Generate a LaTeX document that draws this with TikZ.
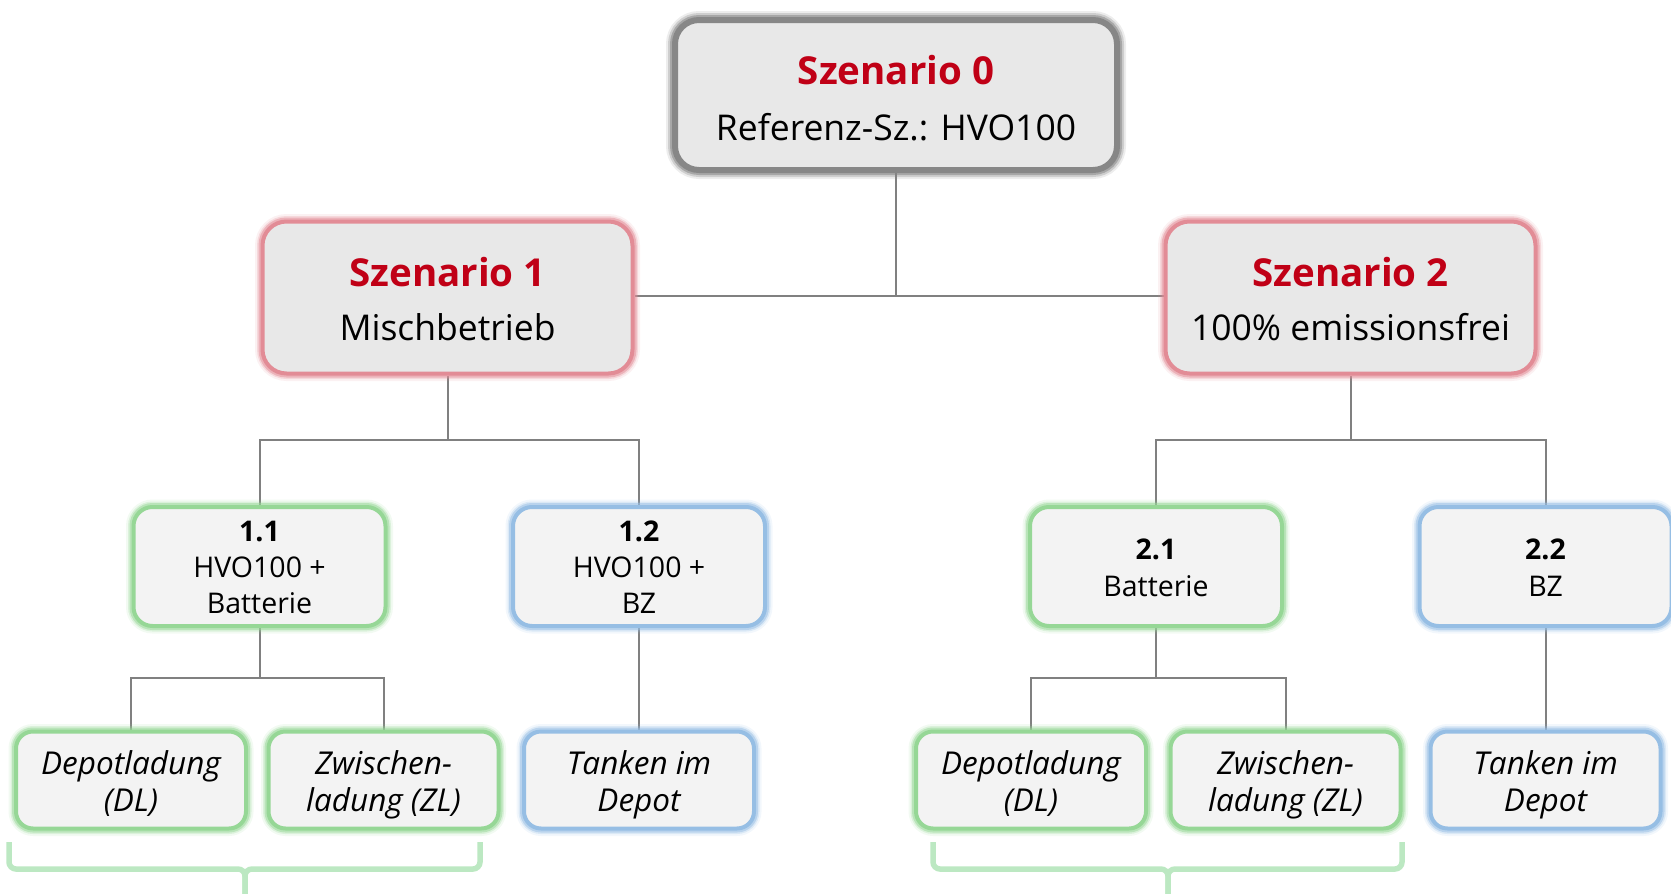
\documentclass[tikz,border=0pt]{standalone}
\usepackage{fontspec}
\setmainfont{Open Sans}
\usetikzlibrary{backgrounds}
\definecolor{szred}{RGB}{192,0,22}
\definecolor{topfill}{RGB}{232,232,232}
\definecolor{lowfill}{RGB}{243,243,243}
\definecolor{graygl}{RGB}{135,135,135}
\definecolor{redgl}{RGB}{226,140,150}
\definecolor{greengl}{RGB}{150,215,150}
\definecolor{bluegl}{RGB}{150,190,228}
\definecolor{bracecol}{RGB}{188,232,194}
\definecolor{linecol}{RGB}{128,128,128}
\tikzset{
  glow/.style={preaction={draw=#1,line width=15pt,opacity=0.12},
               preaction={draw=#1,line width=11pt,opacity=0.25},
               preaction={draw=#1,line width=8pt,opacity=0.5},
               draw=#1,line width=4pt},
  bigglow/.style={preaction={draw=#1,line width=18pt,opacity=0.15},
               preaction={draw=#1,line width=14pt,opacity=0.3},
               preaction={draw=#1,line width=10pt,opacity=0.55},
               draw=#1,line width=6pt},
  bigbox/.style={rectangle,rounded corners=24pt,minimum width=442pt,minimum height=150pt,inner sep=0pt,fill=topfill},
  midbox/.style={rectangle,rounded corners=24pt,minimum width=370pt,minimum height=152pt,inner sep=0pt,fill=topfill},
  subbox/.style={rectangle,rounded corners=19pt,minimum width=252pt,minimum height=119pt,inner sep=0pt,fill=lowfill},
  leafbox/.style={rectangle,rounded corners=17pt,minimum width=230pt,minimum height=97pt,inner sep=0pt,fill=lowfill},
  titletxt/.style={anchor=base,inner sep=0pt,text=szred,font=\fontsize{38.5}{44}\selectfont\bfseries},
  subtxt/.style={anchor=base,inner sep=0pt,font=\fontsize{35.5}{42}\selectfont},
  numtxt/.style={anchor=base,inner sep=0pt,font=\fontsize{28.5}{34}\selectfont\bfseries},
  lowtxt/.style={anchor=base,inner sep=0pt,font=\fontsize{28.5}{34}\selectfont},
  leaftxt/.style={anchor=base,inner sep=0pt,font=\fontsize{31.5}{38}\selectfont\itshape},
  conn/.style={draw=linecol,line width=2pt},
  bracepath/.style={draw=bracecol,line width=5.5pt,rounded corners=7pt}
}
\begin{document}
\begin{tikzpicture}[x=1pt,y=-1pt]
\useasboundingbox (0,0) rectangle (1671,894);
\clip (0,0) rectangle (1671,894);
% boxes
\node[bigbox,bigglow=graygl] (sz0) at (896,95) {};
\node[midbox,glow=redgl] (sz1) at (447.5,297.5) {};
\node[midbox,glow=redgl] (sz2) at (1350.5,297.5) {};
\node[subbox,glow=greengl] (b11) at (259.5,566.5) {};
\node[subbox,glow=bluegl] (b12) at (639,566.5) {};
\node[subbox,glow=greengl] (b21) at (1156,566.5) {};
\node[subbox,glow=bluegl] (b22) at (1545.5,566.5) {};
\node[leafbox,glow=greengl] (c1) at (131,780) {};
\node[leafbox,glow=greengl] (c2) at (383.5,780) {};
\node[leafbox,glow=bluegl] (c3) at (639,780) {};
\node[leafbox,glow=greengl] (c4) at (1031,780) {};
\node[leafbox,glow=greengl] (c5) at (1285.5,780) {};
\node[leafbox,glow=bluegl] (c6) at (1545.5,780) {};
% texts
\node[titletxt] (t0a) at (896,84) {Szenario 0};
\node[subtxt] (t0b) at (896,140) {Referenz-Sz.: HVO100};
\node[titletxt] (t1a) at (447.5,286) {Szenario 1};
\node[subtxt] (t1b) at (447.5,340) {Mischbetrieb};
\node[titletxt] (t2a) at (1350.5,286) {Szenario 2};
\node[subtxt] (t2b) at (1350.5,340) {100\% emissionsfrei};
\node[numtxt] (t11a) at (259.5,541) {1.1};
\node[lowtxt] (t11b) at (259.5,577) {HVO100 +};
\node[lowtxt] (t11c) at (259.5,613) {Batterie};
\node[numtxt] (t12a) at (639,541) {1.2};
\node[lowtxt] (t12b) at (639,577) {HVO100 +};
\node[lowtxt] (t12c) at (639,613) {BZ};
\node[numtxt] (t21a) at (1156,559) {2.1};
\node[lowtxt] (t21b) at (1156,596) {Batterie};
\node[numtxt] (t22a) at (1545.5,559) {2.2};
\node[lowtxt] (t22b) at (1545.5,596) {BZ};
\node[leaftxt] (tc1a) at (131,774) {Depotladung};
\node[leaftxt] (tc1b) at (131,811) {(DL)};
\node[leaftxt] (tc2a) at (383.5,774) {Zwischen-};
\node[leaftxt] (tc2b) at (383.5,811) {ladung (ZL)};
\node[leaftxt] (tc3a) at (639,774) {Tanken im};
\node[leaftxt] (tc3b) at (639,811) {Depot};
\node[leaftxt] (tc4a) at (1031,774) {Depotladung};
\node[leaftxt] (tc4b) at (1031,811) {(DL)};
\node[leaftxt] (tc5a) at (1285.5,774) {Zwischen-};
\node[leaftxt] (tc5b) at (1285.5,811) {ladung (ZL)};
\node[leaftxt] (tc6a) at (1545.5,774) {Tanken im};
\node[leaftxt] (tc6b) at (1545.5,811) {Depot};
% junctions
\coordinate (j0) at (896,296);
\coordinate (j1) at (447.5,440);
\coordinate (j2) at (1350.5,440);
\coordinate (j3) at (259.5,678);
\coordinate (j4) at (1156,678);
\coordinate (k1) at (245,869);
\coordinate (k2) at (1168,869);
\coordinate (k1e) at (245,900);
\coordinate (k2e) at (1168,900);
\coordinate (bl1) at (9,842);
\coordinate (br1) at (480,842);
\coordinate (bl2) at (933,842);
\coordinate (br2) at (1402,842);
\begin{scope}[on background layer]
\draw[conn] (sz0.south) -- (j0);
\draw[conn] (sz1.east |- j0) -- (sz2.west |- j0);
\draw[conn] (sz1.south) -- (j1) -| (b11.north);
\draw[conn] (j1) -| (b12.north);
\draw[conn] (sz2.south) -- (j2) -| (b21.north);
\draw[conn] (j2) -| (b22.north);
\draw[conn] (b11.south) -- (j3) -| (c1.north);
\draw[conn] (j3) -| (c2.north);
\draw[conn] (b12.south) -- (c3.north);
\draw[conn] (b21.south) -- (j4) -| (c4.north);
\draw[conn] (j4) -| (c5.north);
\draw[conn] (b22.south) -- (c6.north);
\end{scope}
% braces
\draw[bracepath] (bl1) |- (k1) -- (k1e);
\draw[bracepath] (br1) |- (k1) -- (k1e);
\draw[bracepath] (bl2) |- (k2) -- (k2e);
\draw[bracepath] (br2) |- (k2) -- (k2e);
\end{tikzpicture}
\end{document}
